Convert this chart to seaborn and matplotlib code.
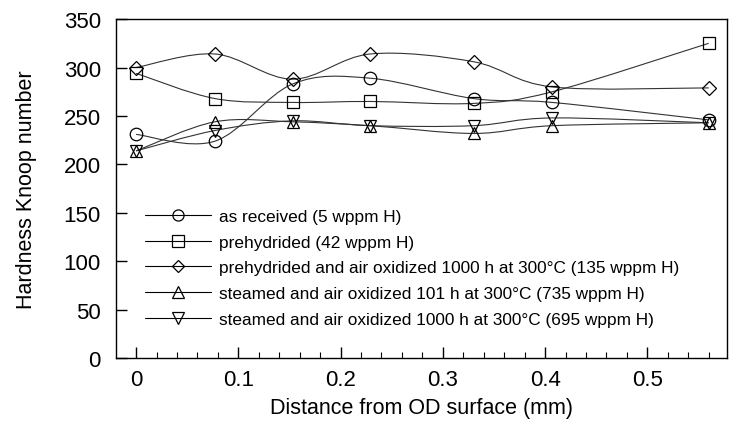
import matplotlib
matplotlib.use("Agg")
import matplotlib.pyplot as plt
from matplotlib.path import Path
from matplotlib.patches import PathPatch
from matplotlib.lines import Line2D
import seaborn as sns
import numpy as np
import pandas as pd

# ---- data ----
distance = [0.0, 0.077, 0.153, 0.229, 0.330, 0.407, 0.560]
as_received = [231, 224, 283, 289, 268, 264, 246]
prehydrided = [294, 268, 264, 265, 263, 275, 325]
prehyd_oxidized = [300, 314, 288, 314, 306, 280, 279]
steamed_101h = [214, 244, 244, 240, 232, 240, 243]
steamed_1000h = [214, 235, 245, 240, 240, 248, 243]

series_names = [
    "as received (5 wppm H)",
    "prehydrided (42 wppm H)",
    "prehydrided and air oxidized 1000 h at 300°C (135 wppm H)",
    "steamed and air oxidized 101 h at 300°C (735 wppm H)",
    "steamed and air oxidized 1000 h at 300°C (695 wppm H)",
]
series_values = [as_received, prehydrided, prehyd_oxidized, steamed_101h, steamed_1000h]
series_markers = ["o", "s", "D", "^", "v"]
marker_sizes = [9, 9, 7, 9, 9]

x_ticks = [0, 0.1, 0.2, 0.3, 0.4, 0.5]
x_tick_labels = ["0", "0.1", "0.2", "0.3", "0.4", "0.5"]
y_ticks = [0, 50, 100, 150, 200, 250, 300, 350]

sns.set_style("ticks")
plt.rcParams["font.family"] = ["Liberation Sans", "DejaVu Sans"]
plt.rcParams["text.color"] = "black"
plt.rcParams["axes.labelcolor"] = "black"

fig = plt.figure(figsize=(7.3, 4.31), dpi=100)
ax = fig.add_axes([0.159, 0.1664, 0.837, 0.787])

df = pd.DataFrame({
    "distance": np.tile(distance, len(series_names)),
    "hardness": np.concatenate(series_values),
    "series": np.repeat(series_names, len(distance)),
})


def smooth_path(xs, ys):
    pts = np.column_stack([xs, ys]).astype(float)
    n = len(pts)
    verts = [pts[0]]
    codes = [Path.MOVETO]
    for i in range(n - 1):
        p0 = pts[i - 1] if i > 0 else pts[i]
        p1 = pts[i]
        p2 = pts[i + 1]
        p3 = pts[i + 2] if i + 2 < n else pts[i + 1]
        c1 = p1 + (p2 - p0) / 6.0
        c2 = p2 - (p3 - p1) / 6.0
        verts += [c1, c2, p2]
        codes += [Path.CURVE4] * 3
    return Path(verts, codes)


handles = []
for name, mk, ms in zip(series_names, series_markers, marker_sizes):
    sub = df[df["series"] == name]
    sns.lineplot(data=sub, x="distance", y="hardness", ax=ax, marker=mk,
                 linestyle="none", markersize=ms, markerfacecolor="none",
                 markeredgecolor="black", markeredgewidth=0.9, color="black",
                 legend=False, zorder=3)
    patch = PathPatch(smooth_path(sub["distance"].values, sub["hardness"].values),
                      facecolor="none", edgecolor="#333333", linewidth=0.8, zorder=2)
    ax.add_patch(patch)
    handles.append(Line2D([0], [0], color="black", linewidth=0.8, marker=mk,
                          markersize=ms - 1, markerfacecolor="none",
                          markeredgecolor="black", markeredgewidth=0.9, label=name))

ax.set_xlim(-0.0196, 0.578)
ax.set_ylim(0, 350)
ax.set_xticks(x_ticks)
ax.set_xticklabels(x_tick_labels)
ax.set_xticks(np.arange(0, 0.58, 0.02), minor=True)
ax.set_yticks(y_ticks)
ax.tick_params(axis="both", which="major", direction="in", labelsize=16,
               length=8, width=1, color="black", labelcolor="black")
ax.tick_params(axis="y", which="major", pad=11)
ax.tick_params(axis="x", which="major", pad=8)
ax.tick_params(axis="x", which="minor", direction="in", length=4, width=0.8, color="black")
ax.tick_params(axis="y", which="minor", left=False)

for sp in ax.spines.values():
    sp.set_linewidth(1.0)
    sp.set_color("black")

ax.set_xlabel("Distance from OD surface (mm)", fontsize=15.5, labelpad=5, color="black")
ax.set_ylabel("Hardness Knoop number", fontsize=15.5, labelpad=19, color="black")

ax.legend(handles=handles, loc="lower left", bbox_to_anchor=(0.0475, 0.093),
          frameon=False, fontsize=12.4, handlelength=3.8, handletextpad=0.47,
          labelspacing=0.62, borderaxespad=0, borderpad=0, labelcolor="black")

fig.savefig("out.png", dpi=100)
